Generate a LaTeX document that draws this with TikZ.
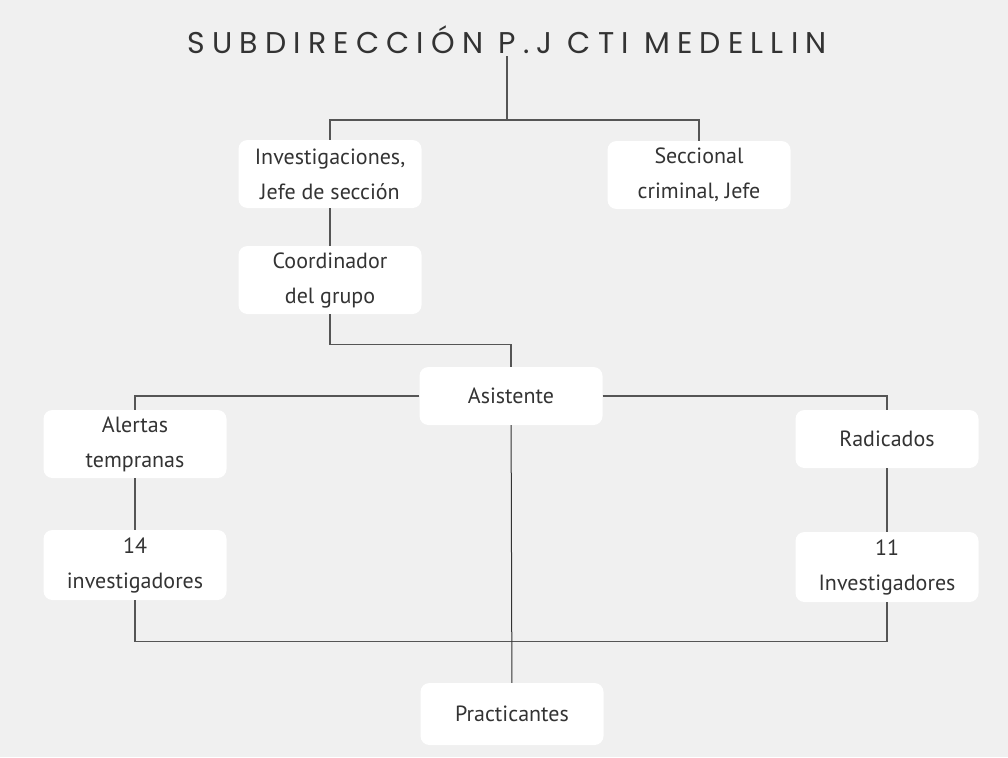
\documentclass[tikz,border=0pt]{standalone}
\usepackage{fontspec}
\setmainfont{PT Sans}
\newfontfamily\titlefont[LetterSpace=24]{Poppins}
\definecolor{bg}{HTML}{F0F0F0}
\definecolor{txt}{HTML}{333333}
\definecolor{ln}{HTML}{555555}
\begin{document}
\begin{tikzpicture}[x=1pt,y=-1pt,
  box/.style={fill=white, rounded corners=9pt, minimum width=183pt, minimum height=68pt,
    align=center, text=txt, font=\fontsize{22}{35}\selectfont, inner sep=0pt},
  conn/.style={draw=ln, line width=1.4pt}]
\useasboundingbox (0,0) rectangle (1008,757);
\fill[bg] (0,0) rectangle (1008,757);
\node[text=txt, font=\titlefont\fontsize{30}{32}\selectfont, inner sep=2pt] (title) at (507,40) {SUBDIRECCIÓN P.J CTI MEDELLIN};
\node[box] (inv) at (330,174) {Investigaciones,\\Jefe de sección};
\node[box] (sec) at (699,175) {Seccional\\criminal, Jefe};
\node[box] (coord) at (330,280) {Coordinador\\del grupo};
\node[box, minimum height=58pt] (asis) at (511,396) {Asistente};
\node[box] (alert) at (135,444) {Alertas\\tempranas};
\node[box, minimum height=58pt] (rad) at (887,439) {Radicados};
\node[box, minimum height=70pt] (inv14) at (135,565) {14\\investigadores};
\node[box, minimum height=70pt] (inv11) at (887,567) {11\\Investigadores};
\node[box, minimum height=62pt] (prac) at (512,714) {Practicantes};
\coordinate (j1) at (509,120);
\draw[conn] (title.south) -- (title.south |- j1);
\draw[conn] (inv.north) -- (inv.north |- j1) -- (sec.north |- j1) -- (sec.north);
\draw[conn] (inv) -- (coord);
\draw[conn] (coord.south) -- ++(0,30) -| (asis.north);
\draw[conn] (asis.west) -| (alert.north);
\draw[conn] (asis.east) -| (rad.north);
\draw[conn] (alert) -- (inv14);
\draw[conn] (rad) -- (inv11);
\draw[conn] (inv14.south) -- ++(0,41) -| (inv11.south);
\draw[draw=txt, line width=1pt] (asis) -- (prac);
\end{tikzpicture}
\end{document}
